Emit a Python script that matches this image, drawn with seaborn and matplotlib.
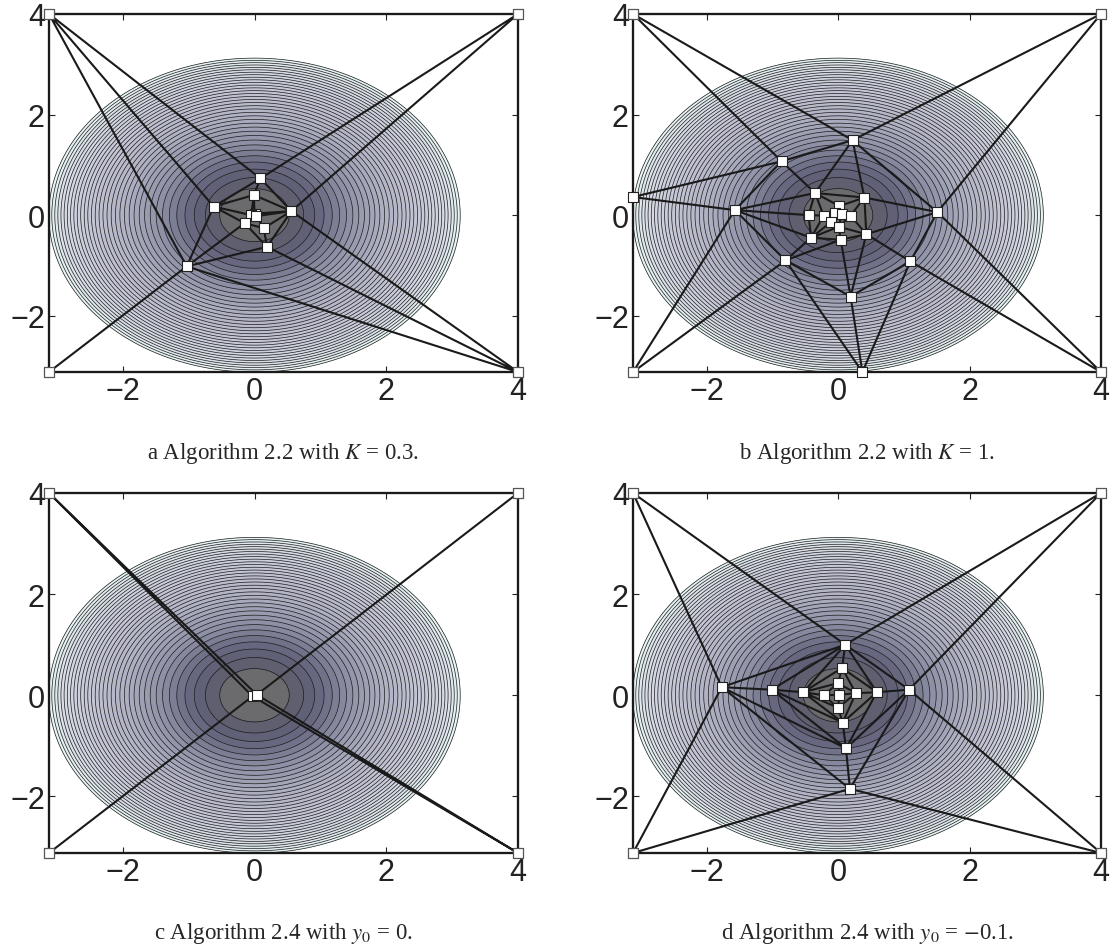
import numpy as np
import matplotlib
matplotlib.use("Agg")
import matplotlib.pyplot as plt
import matplotlib.tri as mtri
from matplotlib.colors import LinearSegmentedColormap
import seaborn as sns

# domain corners (shared by all four panels)
LO, HI = -3.12, 4.0
corner_x = [LO, HI, LO, HI]
corner_y = [HI, HI, LO, LO]

# a  Algorithm 2.2 with K = 0.3
a_x = [0.09, -0.01, -0.62, 0.56, 0.0, -0.05, 0.03, -0.15, 0.14, 0.19, -1.03]
a_y = [0.73, 0.40, 0.17, 0.08, 0.03, 0.0, -0.02, -0.16, -0.26, -0.63, -1.02]

# b  Algorithm 2.2 with K = 1
b_x = [LO, 0.37, 0.22, -0.86, -1.57, 1.51, -0.35, 0.40, -0.45, -0.22, 0.02,
       -0.05, 0.06, 0.19, -0.11, 0.01, 0.43, -0.41, 0.04, -0.80, 1.10, 0.19]
b_y = [0.36, LO, 1.49, 1.07, 0.10, 0.06, 0.44, 0.35, 0.0, -0.01, 0.18,
       0.04, 0.03, -0.01, -0.14, -0.23, -0.38, -0.45, -0.49, -0.90, -0.92, -1.62]

# c  Algorithm 2.4 with y0 = 0
c_x = [-0.03, 0.035]
c_y = [-0.02, 0.01]

# d  Algorithm 2.4 with y0 = -0.1
d_x = [-1.77, -1.01, -0.53, -0.22, 0.02, 0.27, 0.59, 1.08,
       0.11, 0.06, 0.0, 0.0, 0.07, 0.12, 0.18]
d_y = [0.16, 0.11, 0.06, 0.0, 0.01, 0.04, 0.06, 0.11,
       1.0, 0.54, 0.24, -0.25, -0.54, -1.05, -1.85]

captions = [
    r"a Algorithm 2.2 with $K$ = 0.3.",
    r"b Algorithm 2.2 with $K$ = 1.",
    r"c Algorithm 2.4 with $y_0$ = 0.",
    r"d Algorithm 2.4 with $y_0$ = $-$0.1.",
]
panels = [(a_x, a_y), (b_x, b_y), (c_x, c_y), (d_x, d_y)]

sns.set_style("ticks")
plt.rcParams["font.family"] = ["Liberation Sans", "DejaVu Sans"]
plt.rcParams["mathtext.fontset"] = "stix"

shade = LinearSegmentedColormap.from_list(
    "shade",
    [(0.0, "#6c6c6c"), (0.025, "#6a6a6e"), (0.045, "#5a5a70"), (0.09, "#64647c"),
     (0.2, "#8c8ea4"), (0.4, "#b0b2c4"), (0.7, "#caccda"), (0.88, "#d8dee6"),
     (1.0, "#eaf6f6")])

gx = np.linspace(LO, HI, 600)
gy = np.linspace(LO, HI, 600)
X, Y = np.meshgrid(gx, gy)
Z = X ** 2 + Y ** 2
levels = np.linspace(0, 9.75, 36)

fig = plt.figure(figsize=(11.12, 9.53), dpi=100)
W, H = 1112, 953
boxes = [(49, 15, 518, 373), (633, 15, 1101, 373),
         (49, 494, 518, 854), (633, 494, 1101, 854)]
cap_y = [454, 454, 934, 934]

for i, ((px, py), (l, t, r, b)) in enumerate(zip(panels, boxes)):
    ax = fig.add_axes([l / W, 1 - b / H, (r - l) / W, (b - t) / H])
    ax.contourf(X, Y, Z, levels=levels, cmap=shade, zorder=1)
    ax.contour(X, Y, Z, levels=levels[1:], colors="#1a1a1a", linewidths=0.5, zorder=2)

    xs = np.array(corner_x + px)
    ys = np.array(corner_y + py)
    tri = mtri.Triangulation(xs, ys)
    ax.triplot(tri, color="#1a1a1a", lw=1.5, zorder=3, clip_on=False)

    pts = {"x": px, "y": py}
    sns.scatterplot(data=pts, x="x", y="y", marker="s", s=48, color="white",
                    edgecolor="#222222", linewidth=0.8, zorder=5, ax=ax, clip_on=False)
    ax.scatter(corner_x, corner_y, marker="s", s=60, facecolor="white",
               edgecolor="#555555", linewidth=0.9, zorder=6, clip_on=False)

    ax.set_xlim(LO, HI)
    ax.set_ylim(LO, HI)
    ax.set_xticks([-2, 0, 2, 4])
    ax.set_yticks([-2, 0, 2, 4])
    ax.set_xticklabels(["\u22122", "0", "2", "4"])
    ax.set_yticklabels(["\u22122", "0", "2", "4"])
    ax.tick_params(direction="in", length=4, width=0.8, top=True, right=True,
                   labelsize=22, pad=3, colors="#222222")
    for s in ax.spines.values():
        s.set_linewidth(1.6)
        s.set_color("#1a1a1a")
    ax.set_xlabel("")
    ax.set_ylabel("")

    fig.text((l + r) / 2 / W, 1 - cap_y[i] / H, captions[i], ha="center", va="center",
             fontsize=16.5, family=["Liberation Serif", "DejaVu Serif"])

fig.savefig("out.png", dpi=100)
